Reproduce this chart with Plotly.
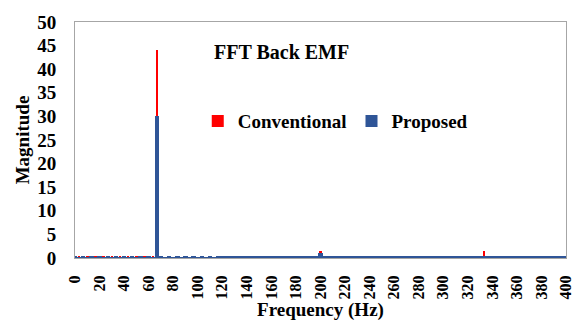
import plotly.graph_objects as go

# FFT bin resolution (Hz) and bin count from 0 to 400 Hz
BIN_HZ = 10 / 3
N_BINS = 121
freq = [i * BIN_HZ for i in range(N_BINS)]

# Back-EMF spectrum magnitudes per bin
conventional = [
    0.3, 0.3, 0.2, 0.3, 0.2, 0.3, 0.2, 0.3, 0.2, 0.3,
    0.2, 0.3, 0.2, 0.3, 0.2, 0.3, 0.2, 0.3, 0.2, 0.3,
    44.0, 0.3, 0.2, 0.3, 0.2, 0.3, 0.2, 0.3, 0.2, 0.3,
    0.2, 0.3, 0.2, 0.3, 0.2, 0.3, 0.2, 0.2, 0.2, 0.2,
    0.2, 0.2, 0.2, 0.2, 0.2, 0.2, 0.2, 0.2, 0.2, 0.2,
    0.2, 0.2, 0.2, 0.2, 0.2, 0.2, 0.2, 0.2, 0.2, 0.2,
    1.5, 0.2, 0.2, 0.2, 0.2, 0.2, 0.2, 0.2, 0.2, 0.2,
    0.2, 0.2, 0.2, 0.2, 0.2, 0.2, 0.2, 0.2, 0.2, 0.2,
    0.2, 0.2, 0.2, 0.2, 0.2, 0.2, 0.2, 0.2, 0.2, 0.2,
    0.2, 0.2, 0.2, 0.2, 0.2, 0.2, 0.2, 0.2, 0.2, 0.2,
    1.5, 0.2, 0.2, 0.2, 0.2, 0.2, 0.2, 0.2, 0.2, 0.2,
    0.2, 0.2, 0.2, 0.2, 0.2, 0.2, 0.2, 0.2, 0.2, 0.2,
    0.2,
]
proposed = [
    0.3, 0.2, 0.3, 0.2, 0.3, 0.2, 0.3, 0.2, 0.3, 0.2,
    0.3, 0.2, 0.3, 0.2, 0.3, 0.2, 0.3, 0.2, 0.3, 0.2,
    30.0, 0.3, 0.2, 0.3, 0.2, 0.3, 0.2, 0.3, 0.2, 0.3,
    0.2, 0.3, 0.2, 0.3, 0.2, 0.3, 0.3, 0.3, 0.3, 0.3,
    0.3, 0.3, 0.3, 0.3, 0.3, 0.3, 0.3, 0.3, 0.3, 0.3,
    0.3, 0.3, 0.3, 0.3, 0.3, 0.3, 0.3, 0.3, 0.3, 0.3,
    1.0, 0.3, 0.3, 0.3, 0.3, 0.3, 0.3, 0.3, 0.3, 0.3,
    0.3, 0.3, 0.3, 0.3, 0.3, 0.3, 0.3, 0.3, 0.3, 0.3,
    0.3, 0.3, 0.3, 0.3, 0.3, 0.3, 0.3, 0.3, 0.3, 0.3,
    0.3, 0.3, 0.3, 0.3, 0.3, 0.3, 0.3, 0.3, 0.3, 0.3,
    0.3, 0.3, 0.3, 0.3, 0.3, 0.3, 0.3, 0.3, 0.3, 0.3,
    0.3, 0.3, 0.3, 0.3, 0.3, 0.3, 0.3, 0.3, 0.3, 0.3,
    0.3,
]

x_ticks = list(range(0, 401, 20))
y_ticks = list(range(0, 51, 5))

RED = "#FF0000"
BLUE = "#2F5597"
FONT = "Liberation Serif"

fig = go.Figure()
fig.add_trace(go.Bar(x=freq, y=conventional, name="Conventional",
                     marker=dict(color=RED, line=dict(width=0)), width=2.0))
fig.add_trace(go.Bar(x=freq, y=proposed, name="Proposed",
                     marker=dict(color=BLUE, line=dict(width=0)), width=3.6))

fig.update_layout(
    width=586, height=329,
    margin=dict(l=75, r=16, t=17, b=71),
    paper_bgcolor="white", plot_bgcolor="white",
    barmode="overlay", bargap=0,
    font=dict(family=FONT, color="black", size=16, weight=700),
    showlegend=True,
    legend=dict(orientation="h", x=0.25, y=0.58, xanchor="left", yanchor="middle",
                font=dict(size=19, family=FONT, weight=700),
                bgcolor="rgba(0,0,0,0)", itemwidth=30, traceorder="normal"),
    xaxis=dict(range=[0, 400], tickvals=x_ticks, ticktext=[str(v) for v in x_ticks],
               tickangle=-90, tickfont=dict(size=16, family=FONT, weight=700),
               showgrid=False, zeroline=False, showline=True, linecolor="#A6A6A6",
               linewidth=1, mirror=True, ticks="", ticklabelstandoff=10,
               title=dict(text="Frequency (Hz)", standoff=4,
                          font=dict(size=19, family=FONT, weight=700))),
    yaxis=dict(range=[0, 50], tickvals=y_ticks, tickfont=dict(size=19, family=FONT, weight=700),
               showgrid=False, zeroline=False, showline=True, linecolor="#A6A6A6",
               linewidth=1, mirror=True, ticks="", ticklabelstandoff=14,
               title=dict(text="Magnitude", standoff=2,
                          font=dict(size=19, family=FONT, weight=700))),
    annotations=[dict(text="FFT Back EMF", x=0.421, y=0.871, xref="paper", yref="paper",
                      xanchor="center", yanchor="middle", showarrow=False,
                      font=dict(size=20, family=FONT, weight=700))],
)

fig.write_html("out.html")
